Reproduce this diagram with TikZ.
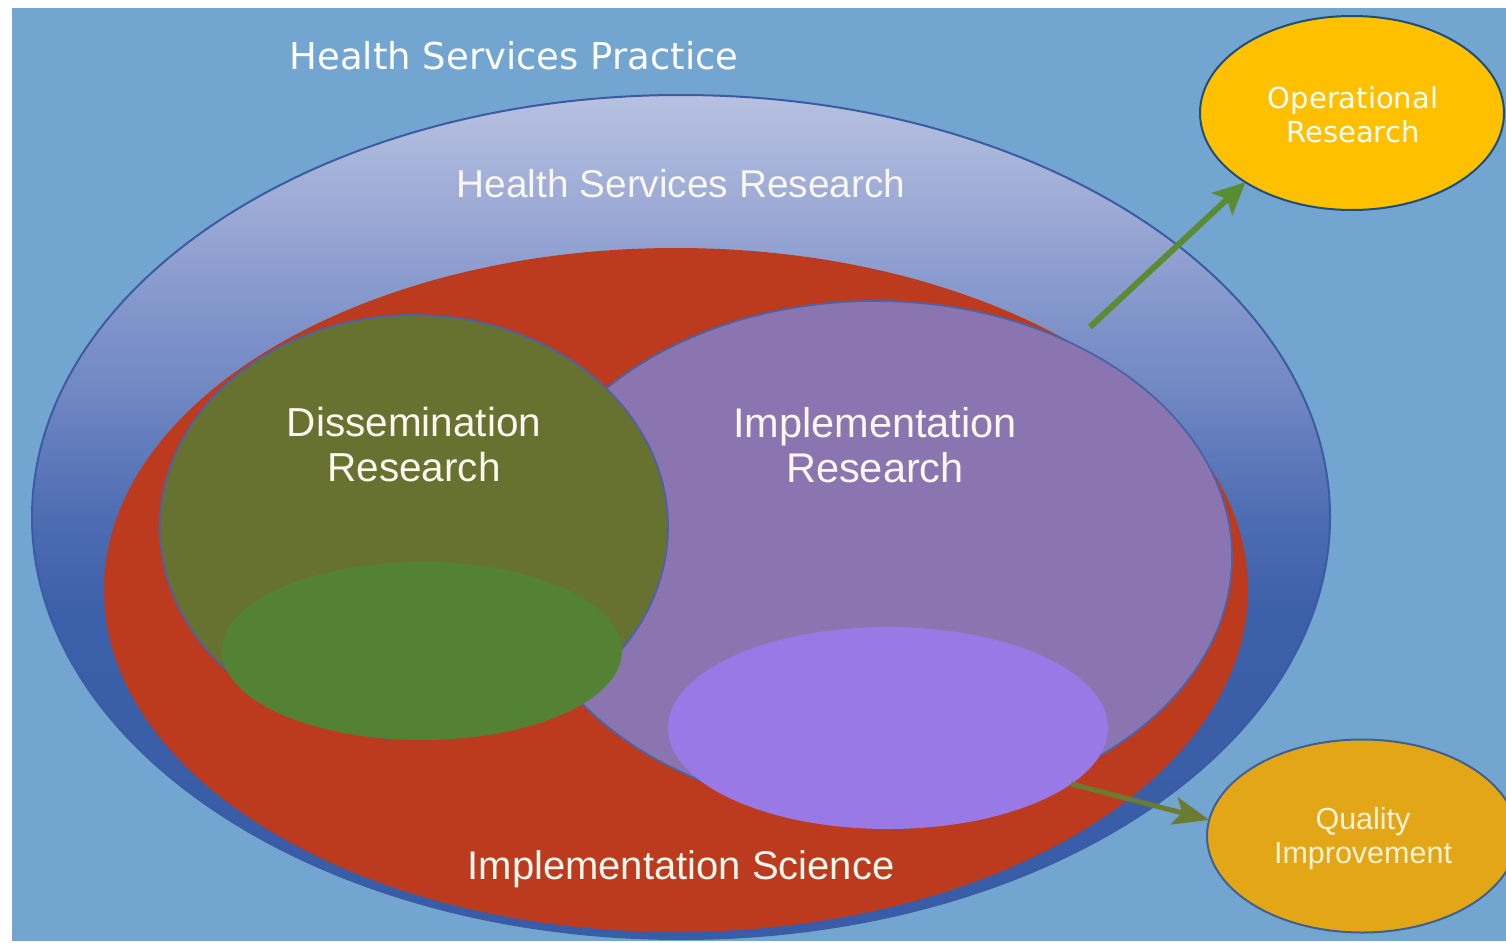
\documentclass[tikz,border=0pt]{standalone}
\usepackage{fontspec}
\usetikzlibrary{arrows.meta,shapes.geometric}
\newfontfamily\verdfont{DejaVu Sans}
\newfontfamily\helvfont{Liberation Sans}
\definecolor{bgblue}{HTML}{72A5D0}
\definecolor{hsrA}{HTML}{B7C1E1}
\definecolor{hsrB}{HTML}{8A9BCE}
\definecolor{hsrC}{HTML}{6E86C2}
\definecolor{hsrD}{HTML}{4D6CB2}
\definecolor{hsrE}{HTML}{3C5FA9}
\definecolor{hsrF}{HTML}{385CA7}
\definecolor{hsrline}{HTML}{3B5CA3}
\definecolor{isred}{HTML}{BC3B1F}
\definecolor{irpurple}{HTML}{8B75B0}
\definecolor{drolive}{HTML}{687230}
\definecolor{drgreen}{HTML}{538235}
\definecolor{irlav}{HTML}{9879E6}
\definecolor{inline}{HTML}{4C62A6}
\definecolor{orgold}{HTML}{FFC000}
\definecolor{orline}{HTML}{1F4E79}
\definecolor{qigold}{HTML}{E3A617}
\definecolor{qiline}{HTML}{41608E}
\definecolor{qitext}{HTML}{FBF2D2}
\definecolor{labtext}{HTML}{FAF7EE}
\definecolor{garrowc}{HTML}{5A8C34}
\definecolor{oarrowc}{HTML}{6B7C32}
\pgfdeclareverticalshading{hsrshade}{100bp}{color(0bp)=(hsrF); color(25bp)=(hsrF); color(44bp)=(hsrE); color(50bp)=(hsrD); color(57bp)=(hsrC); color(64bp)=(hsrB); color(75bp)=(hsrA); color(100bp)=(hsrA)}
\tikzset{
  ell/.style={ellipse, inner sep=0pt, outer sep=0pt},
  sidelab/.style={align=center, inner sep=0pt},
  biglab/.style={text=labtext, font=\helvfont\fontsize{40.5}{45}\selectfont, align=center, inner sep=0pt},
  garrow/.style={draw=garrowc, line width=6pt, -{Stealth[length=32pt,width=30pt,inset=7pt]}},
  oarrow/.style={draw=oarrowc, line width=5pt, -{Stealth[length=36pt,width=28pt,inset=8pt]}}
}
\begin{document}
\begin{tikzpicture}[x=1pt,y=-1pt]
\useasboundingbox (0,0) rectangle (1506,942);
\fill[white] (0,0) rectangle (1506,942);
\fill[bgblue] (12,8) rectangle (1506,941);
% nested ellipses
\node[ell, shade, shading=hsrshade, draw=hsrline, line width=2pt, minimum width=1298pt, minimum height=844pt] (hsrell) at (681,517) {};
\node[ell, fill=isred, minimum width=1144pt, minimum height=684pt] (isell) at (676,590) {};
\node[ell, fill=irpurple, draw=inline, line width=1.8pt, minimum width=714pt, minimum height=512pt] (irell) at (875,557) {};
\node[ell, fill=drolive, draw=inline, line width=1.8pt, minimum width=508pt, minimum height=424pt] (drell) at (414,527) {};
\node[ell, fill=drgreen, minimum width=400pt, minimum height=178pt] (grn) at (422,651) {};
\node[ell, fill=irlav, minimum width=440pt, minimum height=202pt] (lav) at (888,728) {};
% labels
\node[text=white, font=\verdfont\fontsize{37}{44}\selectfont, inner sep=0pt] (hsp) at (514,56) {Health Services Practice};
\node[text=labtext, font=\helvfont\fontsize{38.8}{45}\selectfont, inner sep=0pt] (hsr) at (681,184) {Health Services Research};
\node[biglab] (dr) at (414,445) {Dissemination\\Research};
\node[biglab, font=\helvfont\fontsize{41.5}{45}\selectfont] (ir) at (875,445) {Implementation\\Research};
\node[text=labtext, font=\helvfont\fontsize{40}{45}\selectfont, inner sep=0pt] (is) at (681,869) {Implementation Science};
% side ellipses and arrows
\node[ell, fill=orgold, draw=orline, line width=2pt, minimum width=304pt, minimum height=194pt] (orell) at (1352,113) {};
\node[ell, fill=qigold, draw=qiline, line width=2pt, minimum width=310pt, minimum height=193pt] (qiell) at (1362,836) {};
\node[sidelab, text=white, font=\verdfont\fontsize{29}{34}\selectfont] (ortext) at (1353,115) {Operational\\Research};
\node[sidelab, text=qitext, font=\helvfont\fontsize{30.5}{34}\selectfont] (qitxt) at (1363,839) {Quality\\Improvement};
\coordinate (gstart) at (1090,327);
\draw[garrow] (gstart) -- (orell.213);
\draw[oarrow] (lav.-17.4) -- (qiell.174);
\end{tikzpicture}
\end{document}
